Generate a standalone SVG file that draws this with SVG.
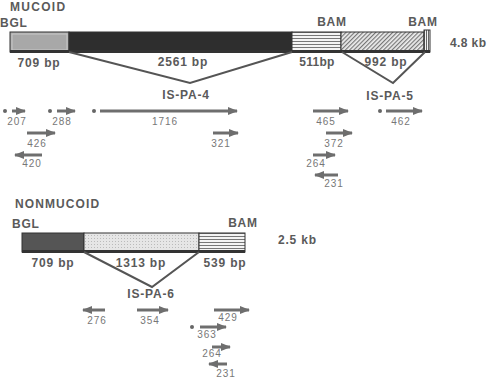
<svg xmlns="http://www.w3.org/2000/svg" width="488" height="378" viewBox="0 0 488 378">
<style>
.lbl{font-family:"Liberation Sans",Arial,sans-serif;font-weight:bold;font-size:12px;fill:#5a5a5a;letter-spacing:0.8px}
.num{font-family:"Liberation Sans",Arial,sans-serif;font-size:10px;fill:#777;letter-spacing:1px;text-anchor:middle}
.c{text-anchor:middle}
.tri{fill:none;stroke:#555;stroke-width:2;stroke-linejoin:miter}
.arr{stroke:#6e6e6e;stroke-width:3;fill:none;marker-end:url(#ah)}
.dot{fill:#666}
.seg{stroke:#333;stroke-width:1}
</style>
<defs>
<marker id="ah" markerUnits="userSpaceOnUse" markerWidth="10" markerHeight="9" refX="9" refY="4.5" orient="auto" viewBox="0 0 10 9">
<path d="M0,0.5 L10,4.5 L0,8.5 z" fill="#6e6e6e"/>
</marker>
<pattern id="hs" width="4" height="3" patternUnits="userSpaceOnUse">
<rect width="4" height="3" fill="#f4f4f4"/>
<rect y="2" width="4" height="1" fill="#777"/>
</pattern>
<pattern id="vs" width="2" height="4" patternUnits="userSpaceOnUse">
<rect width="2" height="4" fill="#f4f4f4"/>
<rect width="1" height="4" fill="#666"/>
</pattern>
<pattern id="hatch" width="3" height="3" patternUnits="userSpaceOnUse" patternTransform="rotate(45)">
<rect width="3" height="3" fill="#eee"/>
<rect width="1.2" height="3" fill="#777"/>
</pattern>
<pattern id="stip" width="3" height="3" patternUnits="userSpaceOnUse">
<rect width="3" height="3" fill="#e6e6e6"/>
<rect x="1" y="1" width="1" height="1" fill="#bbb"/>
</pattern>
</defs>

<g id="mucoid">
<text class="lbl" x="10" y="11" style="letter-spacing:1.3px">MUCOID</text>
<text class="lbl" x="0" y="27">BGL</text>
<text class="lbl c" x="332" y="26">BAM</text>
<text class="lbl c" x="423" y="26">BAM</text>
<text class="lbl" x="450" y="47" style="letter-spacing:0.4px">4.8 kb</text>
<g id="mucoid-bar">
<rect class="seg" x="10" y="32" width="59" height="20" fill="#a8a8a8"/>
<rect x="12" y="34" width="55" height="16" fill="none" stroke="#c8c8c8" stroke-width="1"/>
<rect class="seg" x="69" y="32" width="223" height="20" fill="#2e2e2e"/>
<rect class="seg" x="292" y="32" width="49" height="20" fill="url(#hs)"/>
<rect class="seg" x="341" y="32" width="83" height="20" fill="url(#hatch)"/>
<rect class="seg" x="424" y="30" width="6" height="22" fill="url(#vs)"/>
<rect x="10" y="50" width="420" height="3" fill="#333"/>
</g>
<text class="lbl c" x="39" y="67">709 bp</text>
<text class="lbl c" x="183" y="66">2561 bp</text>
<text class="lbl c" x="317" y="66" style="letter-spacing:0.3px">511bp</text>
<text class="lbl c" x="386" y="66">992 bp</text>
</g>

<g id="is-pa-4">
<polyline class="tri" points="69,52 190,83 292,52"/>
<text class="lbl c" x="186" y="99">IS-PA-4</text>
</g>
<g id="is-pa-5">
<polyline class="tri" points="342,52 393,83 425,52"/>
<text class="lbl c" x="390" y="100">IS-PA-5</text>
</g>

<g id="nonmucoid">
<text class="lbl" x="15" y="208" style="letter-spacing:1.1px">NONMUCOID</text>
<text class="lbl" x="12" y="228">BGL</text>
<text class="lbl c" x="243" y="227">BAM</text>
<text class="lbl" x="278" y="244">2.5 kb</text>
<g id="nonmucoid-bar">
<rect class="seg" x="22" y="233" width="62" height="19" fill="#555"/>
<rect class="seg" x="84" y="233" width="115" height="19" fill="url(#stip)"/>
<rect class="seg" x="199" y="233" width="46" height="19" fill="url(#hs)"/>
<rect x="22" y="250" width="223" height="3" fill="#333"/>
</g>
<text class="lbl c" x="53" y="267">709 bp</text>
<text class="lbl c" x="141" y="267">1313 bp</text>
<text class="lbl c" x="225" y="267">539 bp</text>
</g>

<g id="is-pa-6">
<polyline class="tri" points="84,252 152,287 199,252"/>
<text class="lbl c" x="151" y="298">IS-PA-6</text>
</g>

<g id="connectors">
<circle class="dot" cx="5" cy="111" r="2"/>
<line class="arr" x1="12" y1="111" x2="25" y2="111"/>
<circle class="dot" cx="50" cy="111" r="2"/>
<line class="arr" x1="57" y1="111" x2="75" y2="111"/>
<circle class="dot" cx="94" cy="111" r="2"/>
<line class="arr" x1="100" y1="111" x2="237" y2="111"/>
<line class="arr" x1="27" y1="133" x2="55" y2="133"/>
<line class="arr" x1="42" y1="155" x2="15" y2="155"/>
<line class="arr" x1="213" y1="133" x2="238" y2="133"/>
<line class="arr" x1="313" y1="111" x2="348" y2="111"/>
<circle class="dot" cx="380" cy="111" r="2"/>
<line class="arr" x1="386" y1="111" x2="422" y2="111"/>
<line class="arr" x1="326" y1="133" x2="352" y2="133"/>
<line class="arr" x1="313" y1="155" x2="335" y2="155"/>
<line class="arr" x1="338" y1="175" x2="315" y2="175"/>

<line class="arr" x1="105" y1="310" x2="83" y2="310"/>
<line class="arr" x1="137" y1="310" x2="168" y2="310"/>
<line class="arr" x1="214" y1="310" x2="249" y2="310"/>
<circle class="dot" cx="192" cy="327" r="2"/>
<line class="arr" x1="200" y1="327" x2="226" y2="327"/>
<line class="arr" x1="212" y1="347" x2="230" y2="347"/>
<line class="arr" x1="227" y1="364" x2="209" y2="364"/>
</g>

<g id="labels">
<text class="num" x="17" y="125">207</text>
<text class="num" x="62" y="125">288</text>
<text class="num" x="165" y="125">1716</text>
<text class="num" x="37" y="147">426</text>
<text class="num" x="32" y="167">420</text>
<text class="num" x="221" y="147">321</text>
<text class="num" x="326" y="125">465</text>
<text class="num" x="401" y="125">462</text>
<text class="num" x="334" y="147">372</text>
<text class="num" x="316" y="167">264</text>
<text class="num" x="334" y="187">231</text>
<text class="num" x="97" y="324">276</text>
<text class="num" x="150" y="324">354</text>
<text class="num" x="228" y="321">429</text>
<text class="num" x="207" y="338">363</text>
<text class="num" x="212" y="357">264</text>
<text class="num" x="226" y="377">231</text>
</g>
</svg>
